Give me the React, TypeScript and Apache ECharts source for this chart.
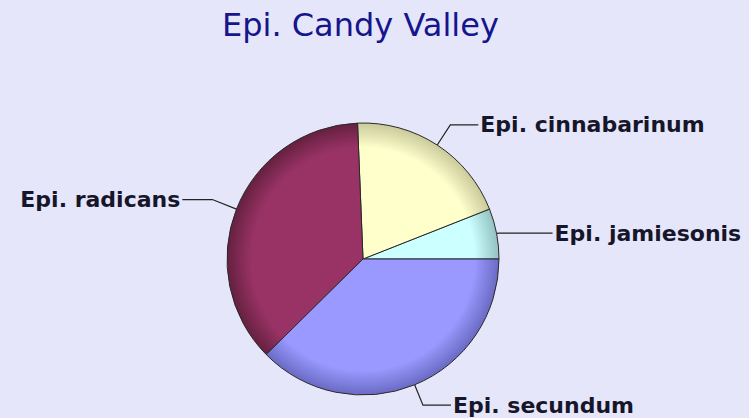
import React, { useEffect, useRef } from "react";
import * as echarts from "echarts";

const titleText = "Epi. Candy Valley";
const categories = ["Epi. jamiesonis", "Epi. cinnabarinum", "Epi. radicans", "Epi. secundum"];
const values = [7, 23, 43, 44];
const baseColors = ["#CCFFFF", "#FFFFCC", "#993366", "#9999FF"];
const rimColors = ["#92C2C2", "#C9C99A", "#65203F", "#6A6AC4"];
const lineLengths = [2, 24, 26, 22];
const lineLengths2 = [54, 28, 30, 28];

export default function App() {
  const ref = useRef<HTMLDivElement>(null);
  useEffect(() => {
    const chart = echarts.init(ref.current!, null, { renderer: "svg" });
    const cx = 363;
    const cy = 259;
    const r = 136;
    chart.setOption({
      animation: false,
      backgroundColor: "#E6E6FA",
      title: {
        text: titleText,
        left: 217,
        top: 4,
        textStyle: {
          fontFamily: "DejaVu Sans",
          fontWeight: "normal",
          fontSize: 32,
          color: "#15158C",
        },
      },
      series: [
        {
          type: "pie",
          center: [cx, cy],
          radius: r,
          startAngle: 0,
          clockwise: false,
          avoidLabelOverlap: false,
          itemStyle: { borderColor: "#2a2a2a", borderWidth: 1 },
          label: {
            show: true,
            position: "outside",
            formatter: "{b}",
            fontFamily: "DejaVu Sans",
            fontWeight: "bold",
            fontSize: 22,
            color: "#16162a",
            distanceToLabelLine: 2,
          },
          labelLine: {
            show: true,
            lineStyle: { color: "#222", width: 1.2 },
          },
          emphasis: { disabled: true },
          data: categories.map((name, i) => ({
            name,
            value: values[i],
            labelLine: { length: lineLengths[i], length2: lineLengths2[i] },
            itemStyle: {
              color: new echarts.graphic.RadialGradient(
                cx,
                cy,
                r,
                [
                  { offset: 0, color: baseColors[i] },
                  { offset: 0.82, color: baseColors[i] },
                  { offset: 1, color: rimColors[i] },
                ],
                true
              ),
            },
          })),
        },
      ],
    });
    return () => chart.dispose();
  }, []);
  return (
    <div
      ref={ref}
      style={{ position: "fixed", left: 0, top: 0, width: 749, height: 418 }}
    />
  );
}
